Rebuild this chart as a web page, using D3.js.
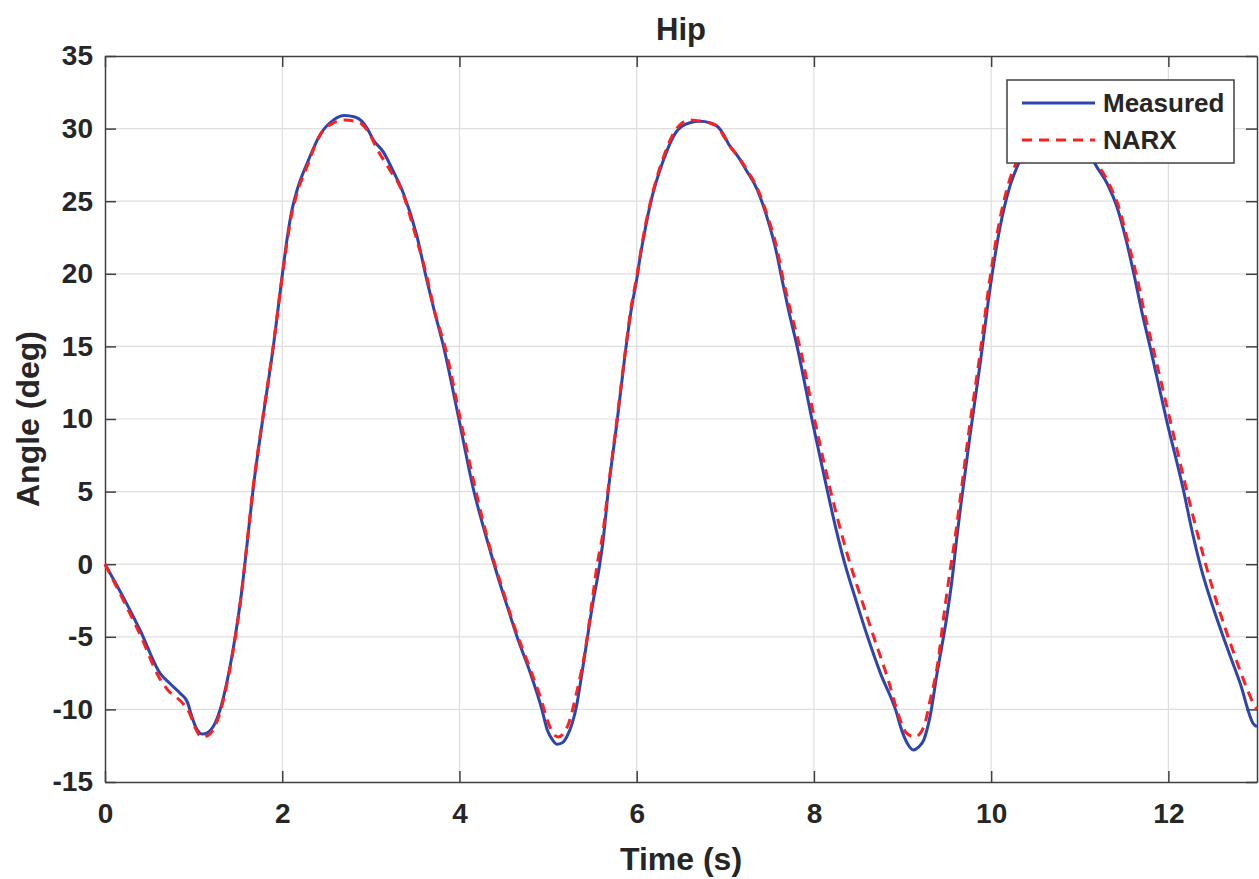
<!DOCTYPE html>
<html>
<head>
<meta charset="utf-8">
<script src="https://cdn.jsdelivr.net/npm/d3@7"></script>
<style>
    body { margin: 0; background: #fff; }
    #chart { width: 1259px; height: 879px; }
    text { font-family: Arial, "Liberation Sans", sans-serif; font-weight: bold; fill: #262626; }
</style>
</head>
<body>
<div id="chart"></div>
<script>
//DATA
let xTicks = [0, 2, 4, 6, 8, 10, 12];
let yTicks = [-15, -10, -5, 0, 5, 10, 15, 20, 25, 30, 35];
let seriesNames = ['Measured', 'NARX'];

let measuredTime = [0, 0.2, 0.4, 0.62, 0.73, 0.85, 0.93, 0.98, 1.04, 1.10, 1.16, 1.22, 1.30, 1.38, 1.45, 1.54, 1.60, 1.67, 1.79, 1.90, 1.99,
    2.05, 2.10, 2.16, 2.28, 2.43, 2.58, 2.70, 2.82, 2.90, 2.96, 3.03, 3.14, 3.25, 3.37, 3.52, 3.63, 3.71, 3.82, 3.99,
    4.16, 4.31, 4.44, 4.56, 4.65, 4.80, 4.93, 4.99, 5.05, 5.10, 5.16, 5.21, 5.27, 5.32, 5.38, 5.44, 5.51, 5.57, 5.62, 5.68, 5.78, 5.87, 5.94,
    6.00, 6.04, 6.10, 6.15, 6.30, 6.45, 6.60, 6.72, 6.82, 6.92, 6.98, 7.04, 7.14, 7.24, 7.36, 7.47, 7.58, 7.64, 7.71, 7.81, 7.98,
    8.15, 8.25, 8.35, 8.47, 8.60, 8.75, 8.92, 9.00, 9.06, 9.12, 9.18, 9.24, 9.31, 9.39, 9.50, 9.56, 9.61, 9.65, 9.76, 9.88, 9.99,
    10.10, 10.21, 10.31, 10.45, 10.60, 10.75, 10.90, 11.05, 11.17, 11.31, 11.42, 11.52, 11.61, 11.70, 11.80, 11.98,
    12.17, 12.27, 12.37, 12.50, 12.66, 12.81, 12.96, 13.0];
let measuredAngle = [0, -2.2, -4.6, -7.5, -8.2, -8.9, -9.5, -10.5, -11.4, -11.7, -11.6, -11.2, -10.0, -8.0, -5.7, -2.0, 1.2, 5.1, 10.4, 15.0, 19.4,
    22.2, 24.1, 25.6, 27.6, 29.6, 30.6, 30.9, 30.8, 30.5, 30.0, 29.2, 28.4, 27.1, 25.5, 22.6, 19.6, 17.6, 15.0, 10.1,
    5.1, 1.7, -1.0, -3.3, -5.0, -7.5, -10.0, -11.4, -12.1, -12.4, -12.3, -11.9, -11.0, -9.8, -7.6, -5.2, -2.5, -0.5, 1.6, 5.1, 9.9, 14.5, 17.6,
    19.6, 21.2, 23.2, 24.7, 27.8, 29.8, 30.4, 30.5, 30.4, 30.1, 29.6, 28.9, 28.1, 27.1, 25.8, 23.9, 21.4, 19.6, 17.6, 15.0, 9.9,
    5.1, 2.4, 0.0, -2.4, -4.9, -7.5, -10.0, -11.6, -12.4, -12.8, -12.6, -12.1, -10.5, -7.5, -3.6, -1.0, 1.7, 3.7, 8.8, 14.0, 19.1,
    23.2, 26.0, 27.6, 29.3, 30.2, 30.5, 30.3, 29.2, 27.6, 26.2, 24.6, 22.4, 20.0, 17.4, 14.8, 9.9,
    5.1, 2.2, -0.3, -2.9, -5.7, -8.2, -11.0, -11.2];

let narxTime = [0, 0.2, 0.4, 0.62, 0.70, 0.88, 0.95, 1.02, 1.09, 1.16, 1.22, 1.30, 1.38, 1.45, 1.54, 1.60, 1.67, 1.79, 1.90, 1.99,
    2.05, 2.10, 2.16, 2.28, 2.43, 2.58, 2.70, 2.82, 2.90, 2.97, 3.07, 3.22, 3.33, 3.52, 3.64, 3.72, 3.84,
    4.01, 4.19, 4.35, 4.48, 4.62, 4.76, 4.91, 5.02, 5.08, 5.12, 5.18, 5.23, 5.32, 5.42, 5.50, 5.56, 5.61, 5.68, 5.78, 5.87, 5.94,
    6.00, 6.04, 6.10, 6.15, 6.30, 6.45, 6.60, 6.72, 6.82, 6.92, 6.98, 7.04, 7.14, 7.24, 7.36, 7.47, 7.58, 7.65, 7.73, 7.84,
    8.01, 8.19, 8.29, 8.39, 8.52, 8.68, 8.84, 8.95, 9.04, 9.14, 9.24, 9.31, 9.39, 9.48, 9.54, 9.59, 9.64, 9.75, 9.87, 9.98,
    10.09, 10.20, 10.31, 10.45, 10.60, 10.75, 10.90, 11.05, 11.19, 11.33, 11.44, 11.54, 11.64, 11.73, 11.83,
    12.02, 12.21, 12.32, 12.43, 12.56, 12.72, 12.87, 12.96, 13.0];
let narxAngle = [0, -2.4, -4.9, -7.9, -8.6, -9.6, -10.2, -11.3, -11.9, -11.8, -11.4, -10.2, -8.1, -5.8, -2.0, 1.3, 5.2, 10.5, 15.1, 19.4,
    22.0, 23.9, 25.4, 27.4, 29.6, 30.4, 30.6, 30.5, 30.3, 29.8, 28.6, 27.1, 26.0, 22.3, 19.6, 17.4, 14.9,
    10.0, 4.9, 1.0, -1.6, -4.3, -6.6, -9.1, -11.2, -11.8, -11.9, -11.6, -11.0, -8.9, -5.9, -2.4, 0.2, 1.8, 5.3, 10.1, 14.6, 17.8,
    19.8, 21.3, 23.4, 24.8, 28.0, 30.0, 30.6, 30.5, 30.4, 30.1, 29.5, 28.9, 28.1, 27.2, 25.9, 24.1, 21.8, 19.7, 17.6, 15.0,
    9.9, 5.0, 2.6, 0.4, -2.1, -5.1, -8.0, -10.3, -11.6, -11.9, -11.2, -9.4, -7.1, -2.9, -0.3, 1.7, 4.0, 9.2, 14.3, 19.4,
    23.5, 26.3, 28.0, 29.6, 30.4, 30.5, 30.2, 29.2, 27.7, 26.2, 24.6, 22.3, 19.9, 17.3, 14.8,
    9.9, 5.0, 2.3, -0.2, -2.9, -5.8, -8.3, -9.6, -10.0];

//VARIABLES
let colors = ['#2e44b0', '#ff1f1f'];
let margin = {top: 56, right: 2, bottom: 97, left: 105};
let width = 1259 - margin.left - margin.right,
    height = 879 - margin.top - margin.bottom;

initChart();

function initChart() {
    let svg = d3.select('#chart')
        .append('svg')
            .attr('width', 1259)
            .attr('height', 879);

    let chart = svg.append('g')
        .attr('transform', 'translate(' + margin.left + ',' + margin.top + ')');

    let x = d3.scaleLinear().domain([0, 13]).range([0, width]);
    let y = d3.scaleLinear().domain([-15, 35]).range([height, 0]);

    //Grid
    chart.append('g')
        .selectAll('line')
        .data(xTicks.slice(1))
        .enter().append('line')
            .attr('x1', function(d) { return x(d); })
            .attr('x2', function(d) { return x(d); })
            .attr('y1', 0).attr('y2', height)
            .attr('stroke', '#dedede').attr('stroke-width', 1.2);
    chart.append('g')
        .selectAll('line')
        .data(yTicks.slice(1, -1))
        .enter().append('line')
            .attr('y1', function(d) { return y(d); })
            .attr('y2', function(d) { return y(d); })
            .attr('x1', 0).attr('x2', width)
            .attr('stroke', '#dedede').attr('stroke-width', 1.2);

    //Axes (ticks inside, box style)
    let plainFormat = function(d) { return String(d); };
    let axisStyle = function(g) {
        g.select('.domain').attr('stroke', '#404040').attr('stroke-width', 1.5);
        g.selectAll('.tick line').attr('stroke', '#404040').attr('stroke-width', 1.5);
        g.selectAll('.tick text')
            .style('font-size', '28px')
            .style('font-family', 'Arial, "Liberation Sans", sans-serif')
            .style('font-weight', 'bold')
            .attr('fill', '#262626');
    };

    chart.append('g')
        .attr('transform', 'translate(0,' + height + ')')
        .call(d3.axisBottom(x).tickValues(xTicks).tickFormat(plainFormat).tickSizeInner(-11).tickSizeOuter(0).tickPadding(21))
        .call(axisStyle);

    chart.append('g')
        .call(d3.axisTop(x).tickValues(xTicks).tickSizeInner(-11).tickSizeOuter(0).tickFormat(''))
        .call(axisStyle);

    chart.append('g')
        .call(d3.axisLeft(y).tickValues(yTicks).tickFormat(plainFormat).tickSizeInner(-11).tickSizeOuter(0).tickPadding(12))
        .call(axisStyle);

    chart.append('g')
        .attr('transform', 'translate(' + width + ',0)')
        .call(d3.axisRight(y).tickValues(yTicks).tickSizeInner(-11).tickSizeOuter(0).tickFormat(''))
        .call(axisStyle);

    //Lines
    let line = d3.line()
        .x(function(d) { return x(d.t); })
        .y(function(d) { return y(d.v); })
        .curve(d3.curveMonotoneX);

    let measured = measuredTime.map(function(t, i) { return {t: t, v: measuredAngle[i]}; });
    let narx = narxTime.map(function(t, i) { return {t: t, v: narxAngle[i]}; });

    chart.append('path')
        .datum(measured)
        .attr('fill', 'none')
        .attr('stroke', colors[0])
        .attr('stroke-width', 3)
        .attr('d', line);

    chart.append('path')
        .datum(narx)
        .attr('fill', 'none')
        .attr('stroke', colors[1])
        .attr('stroke-width', 3)
        .attr('stroke-dasharray', '10,7')
        .attr('d', line);

    //Titles
    svg.append('text')
        .attr('x', margin.left + width / 2)
        .attr('y', 40)
        .attr('text-anchor', 'middle')
        .style('font-size', '31px')
        .text('Hip');

    svg.append('text')
        .attr('x', margin.left + width / 2)
        .attr('y', 870)
        .attr('text-anchor', 'middle')
        .style('font-size', '32px')
        .text('Time (s)');

    svg.append('text')
        .attr('transform', 'translate(39,' + (margin.top + height / 2) + ') rotate(-90)')
        .attr('text-anchor', 'middle')
        .style('font-size', '32px')
        .text('Angle (deg)');

    //Legend
    let legend = svg.append('g').attr('transform', 'translate(1007,80)');
    legend.append('rect')
        .attr('width', 227).attr('height', 83)
        .attr('fill', '#fff')
        .attr('stroke', '#404040').attr('stroke-width', 1.5);

    seriesNames.forEach(function(name, i) {
        let ly = 23 + i * 37;
        legend.append('line')
            .attr('x1', 15).attr('x2', 88)
            .attr('y1', ly).attr('y2', ly)
            .attr('stroke', colors[i])
            .attr('stroke-width', 3)
            .attr('stroke-dasharray', i == 1 ? '10,7' : null);
        legend.append('text')
            .attr('x', 96)
            .attr('y', ly + 9)
            .style('font-size', '26px')
            .attr('fill', '#000')
            .text(name);
    });
}
</script>
</body>
</html>
